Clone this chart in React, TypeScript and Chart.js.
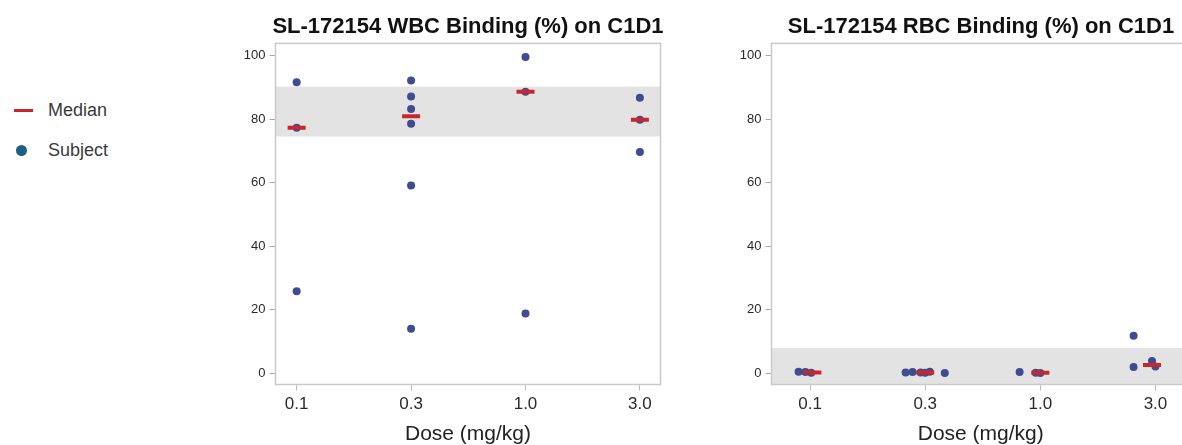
import React, { useEffect, useRef } from 'react';
import { Chart, registerables } from 'chart.js';

Chart.register(...registerables);

// ---------- data ----------
const doseLabels = ['0.1', '0.3', '1.0', '3.0'];
const xTickValues = [0, 1, 2, 3];
const yTickValues = [0, 20, 40, 60, 80, 100];

// WBC panel
const wbcSubjectDose = [0, 0, 0, 1, 1, 1, 1, 1, 1, 2, 2, 2, 3, 3, 3];
const wbcSubjectJitter = [0, 0, 0, 0, 0, 0, 0, 0, 0, 0, 0, 0, 0, 0, 0];
const wbcSubjectValue = [91.6, 77.3, 25.8, 92.1, 87.1, 83.2, 78.5, 59.1, 14.0, 99.5, 88.6, 18.8, 86.7, 79.8, 69.6];
const wbcMedianJitter = [0, 0, 0, 0];
const wbcMedianValue = [77.3, 80.9, 88.6, 79.8];
const wbcNormalRange = [74.5, 90.2];

// RBC panel
const rbcSubjectDose = [0, 0, 0, 1, 1, 1, 1, 1, 1, 2, 2, 2, 3, 3, 3, 3];
const rbcSubjectJitter = [-0.1, -0.04, 0.01, -0.17, -0.11, -0.04, 0.0, 0.04, 0.17, -0.18, -0.04, 0.0, -0.19, -0.19, -0.03, 0.0];
const rbcSubjectValue = [0.5, 0.4, 0.2, 0.3, 0.4, 0.3, 0.2, 0.5, 0.1, 0.4, 0.2, 0.1, 11.8, 2.0, 3.9, 2.2];
const rbcMedianJitter = [0.02, 0.0, 0.0, -0.03];
const rbcMedianValue = [0.3, 0.3, 0.2, 2.6];
const rbcNormalRange = [-10, 8.0];

// ---------- styling ----------
const FONT = "'Liberation Sans', Arial, Helvetica, sans-serif";
const MEDIAN_COLOR = '#c9262c';
const SUBJECT_COLOR = '#3e4c94';
const LEGEND_SUBJECT_COLOR = '#1f5f80';
const BAND_COLOR = '#e3e3e3';

const bandPlugin = {
  id: 'refBand',
  beforeDatasetsDraw(chart: any, _args: any, opts: any) {
    const { ctx, chartArea: a, scales } = chart;
    const y = scales.y;
    const top = Math.max(a.top, y.getPixelForValue(opts.high));
    const bot = Math.min(a.bottom, y.getPixelForValue(opts.low));
    ctx.save();
    ctx.fillStyle = opts.color;
    ctx.fillRect(a.left, top, a.right - a.left, bot - top);
    ctx.strokeStyle = '#c9c9c9';
    ctx.lineWidth = 1.5;
    ctx.strokeRect(a.left, a.top, a.right - a.left, a.bottom - a.top);
    ctx.restore();
  },
};

function buildPoints(dose: number[], jitter: number[], values: number[]) {
  return values.map((v, i) => ({ x: dose[i] + jitter[i], y: v }));
}

function makeConfig(p: {
  title: string;
  subjects: { x: number; y: number }[];
  medians: { x: number; y: number }[];
  range: number[];
  xMin: number;
  xMax: number;
  leftW: number;
  rightW: number;
}): any {
  return {
    type: 'scatter',
    data: {
      datasets: [
        {
          label: 'Median',
          data: p.medians,
          pointStyle: 'line',
          pointRadius: 9,
          pointHoverRadius: 9,
          pointBorderWidth: 4,
          borderColor: MEDIAN_COLOR,
          backgroundColor: MEDIAN_COLOR,
          showLine: false,
        },
        {
          label: 'Subject',
          data: p.subjects,
          pointStyle: 'circle',
          pointRadius: 4,
          pointHoverRadius: 4,
          pointBorderWidth: 0,
          borderColor: SUBJECT_COLOR,
          backgroundColor: SUBJECT_COLOR,
          showLine: false,
        },
      ],
    },
    plugins: [bandPlugin],
    options: {
      responsive: false,
      animation: false,
      devicePixelRatio: 1,
      layout: { padding: 0 },
      plugins: {
        legend: { display: false },
        tooltip: { enabled: false },
        title: {
          display: true,
          text: p.title,
          color: '#111',
          font: { family: FONT, size: 22, weight: 'bold' },
          padding: { top: 14, bottom: 3 },
        },
        refBand: { low: p.range[0], high: p.range[1], color: BAND_COLOR },
      },
      scales: {
        x: {
          type: 'linear',
          min: p.xMin,
          max: p.xMax,
          afterBuildTicks: (s: any) => {
            s.ticks = xTickValues.map((v) => ({ value: v }));
          },
          afterFit: (s: any) => {
            s.height = 60.5;
          },
          ticks: {
            callback: (v: any) => doseLabels[Math.round(Number(v))],
            color: '#2a2a2a',
            font: { family: FONT, size: 17 },
            padding: 4,
            maxRotation: 0,
            autoSkip: false,
          },
          grid: { display: true, drawOnChartArea: false, tickLength: 6, color: '#bdbdbd' },
          border: { display: false },
          title: {
            display: true,
            text: 'Dose (mg/kg)',
            color: '#222',
            font: { family: FONT, size: 21, lineHeight: 1 },
            padding: 0,
          },
        },
        y: {
          type: 'linear',
          position: 'left',
          min: -3.5,
          max: 103.8,
          afterBuildTicks: (s: any) => {
            s.ticks = yTickValues.map((v) => ({ value: v }));
          },
          afterFit: (s: any) => {
            s.width = p.leftW;
          },
          ticks: {
            color: '#2a2a2a',
            font: { family: FONT, size: 13 },
            padding: 4,
          },
          grid: { display: true, drawOnChartArea: false, tickLength: 6, color: '#aaaaaa' },
          border: { display: false },
        },
        yPad: {
          type: 'linear',
          position: 'right',
          display: true,
          afterFit: (s: any) => {
            s.width = p.rightW;
          },
          ticks: { display: false },
          grid: { display: false },
          border: { display: false },
        },
      },
    },
  };
}

function Panel(props: { left: number; width: number; config: any }) {
  const ref = useRef<HTMLCanvasElement | null>(null);
  useEffect(() => {
    if (!ref.current) return;
    const chart = new Chart(ref.current, props.config);
    return () => chart.destroy();
  }, []);
  return (
    <canvas
      ref={ref}
      width={props.width}
      height={445}
      style={{ position: 'absolute', left: props.left, top: 0, width: props.width, height: 445 }}
    />
  );
}

export default function App() {
  Chart.defaults.font.family = FONT;

  const wbcConfig = makeConfig({
    title: 'SL-172154 WBC Binding (%) on C1D1',
    subjects: buildPoints(wbcSubjectDose, wbcSubjectJitter, wbcSubjectValue),
    medians: buildPoints([0, 1, 2, 3], wbcMedianJitter, wbcMedianValue),
    range: wbcNormalRange,
    xMin: -0.185,
    xMax: 3.18,
    leftW: 85.5,
    rightW: 85.5,
  });
  const rbcConfig = makeConfig({
    title: 'SL-172154 RBC Binding (%) on C1D1',
    subjects: buildPoints(rbcSubjectDose, rbcSubjectJitter, rbcSubjectValue),
    medians: buildPoints([0, 1, 2, 3], rbcMedianJitter, rbcMedianValue),
    range: rbcNormalRange,
    xMin: -0.335,
    xMax: 3.3,
    leftW: 71.5,
    rightW: 72,
  });

  const legendText: React.CSSProperties = {
    position: 'absolute',
    left: 48,
    fontFamily: FONT,
    fontSize: 18,
    color: '#3a3a3a',
    lineHeight: '20px',
  };

  return (
    <div
      style={{
        position: 'fixed',
        left: 0,
        top: 0,
        width: 1182,
        height: 445,
        overflow: 'hidden',
        background: '#fff',
      }}
    >
      {/* legend */}
      <div style={{ position: 'absolute', left: 14, top: 108.5, width: 19, height: 3.5, background: MEDIAN_COLOR }} />
      <div style={{ ...legendText, top: 100 }}>Median</div>
      <div
        style={{
          position: 'absolute',
          left: 15.5,
          top: 144.5,
          width: 11,
          height: 11,
          borderRadius: '50%',
          background: LEGEND_SUBJECT_COLOR,
        }}
      />
      <div style={{ ...legendText, top: 140 }}>Subject</div>

      <Panel left={190} width={556} config={wbcConfig} />
      <Panel left={700} width={562} config={rbcConfig} />
    </div>
  );
}
